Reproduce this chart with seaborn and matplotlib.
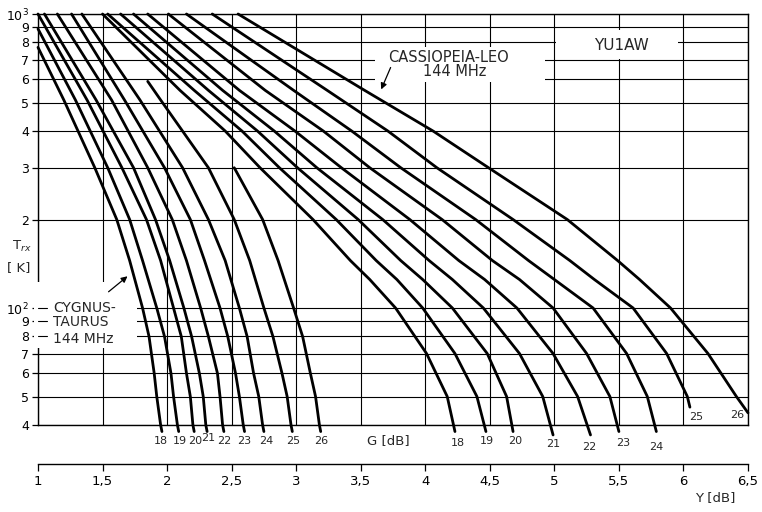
import numpy as np
import pandas as pd
import seaborn as sns
import matplotlib.pyplot as plt
from matplotlib.patches import Rectangle
from matplotlib.ticker import NullLocator

# gain of the antenna G [dB] for each curve
g_values = [18, 19, 20, 21, 22, 23, 24, 25, 26]

# Cygnus-Taurus 144 MHz: Y [dB] and T_rx [K]
cyg_Y = [
    [1.00, 1.20, 1.44, 1.61, 1.71, 1.81, 1.86, 1.90, 1.92, 1.95, 1.96],
    [1.00, 1.29, 1.54, 1.71, 1.81, 1.92, 1.98, 2.03, 2.05, 2.08, 2.09],
    [1.00, 1.38, 1.65, 1.84, 1.95, 2.05, 2.11, 2.15, 2.18, 2.20, 2.21],
    [1.05, 1.45, 1.74, 1.91, 2.02, 2.13, 2.19, 2.25, 2.28, 2.30, 2.31],
    [1.15, 1.57, 1.85, 2.04, 2.15, 2.26, 2.32, 2.39, 2.41, 2.43, 2.44],
    [1.26, 1.67, 1.98, 2.18, 2.29, 2.41, 2.47, 2.53, 2.56, 2.59, 2.60],
    [1.34, 1.79, 2.12, 2.32, 2.45, 2.56, 2.62, 2.67, 2.71, 2.74, 2.75],
    [1.85, 1.95, 2.32, 2.52, 2.64, 2.75, 2.82, 2.89, 2.93, 2.96, 2.97],
    [2.52, 2.74, 2.86, 2.98, 3.05, 3.11, 3.15, 3.18, 3.19],
]
cyg_T = [
    [770, 510, 300, 200, 145, 100, 80, 60, 50, 40, 38],
    [890, 510, 300, 200, 145, 100, 80, 60, 50, 40, 38],
    [1000, 510, 300, 200, 145, 100, 80, 60, 50, 40, 38],
    [1000, 510, 300, 200, 145, 100, 80, 60, 50, 40, 38],
    [1000, 510, 300, 200, 145, 100, 80, 60, 50, 40, 38],
    [1000, 510, 300, 200, 145, 100, 80, 60, 50, 40, 38],
    [1000, 510, 300, 200, 145, 100, 80, 60, 50, 40, 38],
    [590, 510, 300, 200, 145, 100, 80, 60, 50, 40, 38],
    [300, 200, 145, 100, 80, 60, 50, 40, 38],
]

# Cassiopeia-Leo 144 MHz
cas_Y = [
    [1.50, 2.10, 2.45, 2.72, 3.13, 3.42, 3.57, 3.77, 4.01, 4.17, 4.23],
    [1.54, 2.21, 2.58, 2.87, 3.31, 3.62, 3.78, 3.98, 4.23, 4.40, 4.47],
    [1.64, 2.32, 2.70, 3.01, 3.48, 3.81, 3.98, 4.21, 4.48, 4.63, 4.68],
    [1.74, 2.43, 2.83, 3.16, 3.67, 4.03, 4.21, 4.45, 4.73, 4.91, 4.99],
    [1.85, 2.56, 2.99, 3.35, 3.88, 4.26, 4.46, 4.71, 4.99, 5.18, 5.28],
    [2.01, 2.76, 3.21, 3.57, 4.13, 4.52, 4.73, 4.99, 5.25, 5.43, 5.50],
    [2.15, 2.98, 3.43, 3.81, 4.39, 4.80, 5.00, 5.30, 5.56, 5.72, 5.79],
    [2.35, 3.24, 3.71, 4.09, 4.68, 5.12, 5.31, 5.61, 5.87, 6.03, 6.05],
    [2.55, 3.53, 4.06, 4.49, 5.10, 5.49, 5.66, 5.90, 6.19, 6.41, 6.50],
]
cas_T = [
    [1000, 550, 400, 300, 200, 145, 125, 100, 70, 50, 38],
    [1000, 550, 400, 300, 200, 145, 125, 100, 70, 50, 38],
    [1000, 550, 400, 300, 200, 145, 125, 100, 70, 50, 38],
    [1000, 550, 400, 300, 200, 145, 125, 100, 70, 50, 37],
    [1000, 550, 400, 300, 200, 145, 125, 100, 70, 50, 37],
    [1000, 550, 400, 300, 200, 145, 125, 100, 70, 50, 38],
    [1000, 550, 400, 300, 200, 145, 125, 100, 70, 50, 38],
    [1000, 550, 400, 300, 200, 145, 125, 100, 70, 50, 46],
    [1000, 550, 400, 300, 200, 145, 125, 100, 70, 50, 44],
]

t_ticks = [40, 50, 60, 70, 80, 90, 100, 200, 300, 400, 500, 600, 700, 800, 900, 1000]
t_labels = ['4', '5', '6', '7', '8', '9', '$10^2$', '2', '3', '4', '5', '6', '7', '8', '9', '$10^3$']
y_ticks = [1, 1.5, 2, 2.5, 3, 3.5, 4, 4.5, 5, 5.5, 6, 6.5]
y_labels = ['1', '1,5', '2', '2,5', '3', '3,5', '4', '4,5', '5', '5,5', '6', '6,5']

rows = []
for fam, Ys, Ts in (('cyg', cyg_Y, cyg_T), ('cas', cas_Y, cas_T)):
    for g, ys, ts in zip(g_values, Ys, Ts):
        for y, t in zip(ys, ts):
            rows.append((f'{fam}{g}', y, t))
df = pd.DataFrame(rows, columns=['curve', 'Y', 'T'])

sns.set_theme(style='ticks', rc={'axes.edgecolor': 'black', 'axes.linewidth': 1.0,
                                 'xtick.color': 'black', 'ytick.color': 'black'})
plt.rcParams['font.family'] = ['DejaVu Sans', 'Noto Sans']

fig = plt.figure(figsize=(7.62, 5.12), dpi=100)
ax = fig.add_axes([38 / 762, 1 - 425 / 512, 710 / 762, 411 / 512])

sns.lineplot(data=df, x='Y', y='T', units='curve', estimator=None, sort=False,
             color='black', lw=2.0, ax=ax, legend=False)
for ln in ax.lines:
    ln.set_clip_on(False)
    ln.set_zorder(3)
    ln.set_solid_joinstyle('round')

ax.set_yscale('log')
ax.set_ylim(40, 1000)
ax.set_xlim(1, 6.5)
ax.set_xlabel('')
ax.set_ylabel('')
ax.set_xticks(y_ticks)
ax.tick_params(axis='x', length=0, labelbottom=False)
ax.set_yticks(t_ticks, t_labels)
ax.yaxis.set_minor_locator(NullLocator())
ax.tick_params(axis='y', direction='out', length=4.5, width=0.9, pad=2, labelsize=9)
ax.grid(True, color='black', lw=0.8)
ax.set_axisbelow(True)

# lower Y [dB] scale
sec = ax.secondary_xaxis(-0.095)
sec.set_xticks(y_ticks, y_labels)
sec.tick_params(direction='out', length=5, width=0.9, pad=3, labelsize=9.5)
sec.spines['bottom'].set_linewidth(1.0)

# white boxes behind the notes
for x0, x1, t0, t1 in ((5.01, 5.96, 705, 882), (3.61, 4.93, 587, 772), (0.97, 1.77, 73, 122.6)):
    ax.add_patch(Rectangle((x0, t0), x1 - x0, t1 - t0, facecolor='white',
                           edgecolor='none', zorder=2.6, clip_on=False))
for v in (100, 90, 80):
    ax.plot([1, 1.07], [v, v], color='black', lw=0.8, zorder=2.7, clip_on=False)

ax.text(5.52, 784, 'YU1AW', ha='center', va='center', fontsize=11, zorder=4)
ax.text(4.18, 714, 'CASSIOPEIA-LEO', ha='center', va='center', fontsize=10.5, zorder=4)
ax.text(4.23, 635, '144 MHz', ha='center', va='center', fontsize=10.5, zorder=4)
ax.text(1.116, 100, 'CYGNUS-', ha='left', va='center', fontsize=10, zorder=4)
ax.text(1.116, 89.6, 'TAURUS', ha='left', va='center', fontsize=10, zorder=4)
ax.text(1.116, 78.4, '144 MHz', ha='left', va='center', fontsize=10, zorder=4)
ax.annotate('', xy=(3.65, 543), xytext=(3.74, 671), zorder=4,
            arrowprops=dict(arrowstyle='-|>', color='black', lw=0.9, mutation_scale=9))
ax.annotate('', xy=(1.71, 130), xytext=(1.53, 112), zorder=4,
            arrowprops=dict(arrowstyle='-|>', color='black', lw=0.9, mutation_scale=9))

# G labels at the curve ends
trans = ax.get_xaxis_transform()
cyg_lab_x = [1.95, 2.10, 2.22, 2.32, 2.44, 2.60, 2.77, 2.98, 3.19]
for g, x in zip(g_values, cyg_lab_x):
    ax.text(x, -0.032 if g == 21 else -0.039, str(g), transform=trans,
            ha='center', va='center', fontsize=8)
cas_lab_x = [4.25, 4.48, 4.70, 4.99, 5.27, 5.53, 5.79]
cas_lab_y = [-0.043, -0.039, -0.039, -0.046, -0.054, -0.044, -0.054]
for g, x, y in zip(g_values, cas_lab_x, cas_lab_y):
    ax.text(x, y, str(g), transform=trans, ha='center', va='center', fontsize=8)
ax.text(6.10, 0.019, '25', transform=trans, ha='center', va='center', fontsize=8)
ax.text(6.42, 0.024, '26', transform=trans, ha='center', va='center', fontsize=8)
ax.text(3.71, -0.039, 'G [dB]', transform=trans, ha='center', va='center', fontsize=9.5)

fig.text(22 / 762, 1 - 246 / 512, 'T$_{rx}$', ha='center', va='center', fontsize=9.5)
fig.text(19 / 762, 1 - 268 / 512, '[ K]', ha='center', va='center', fontsize=9.5)
fig.text(715 / 762, 1 - 498 / 512, 'Y [dB]', ha='center', va='center', fontsize=9.5)

fig.savefig('out.png', dpi=100)
